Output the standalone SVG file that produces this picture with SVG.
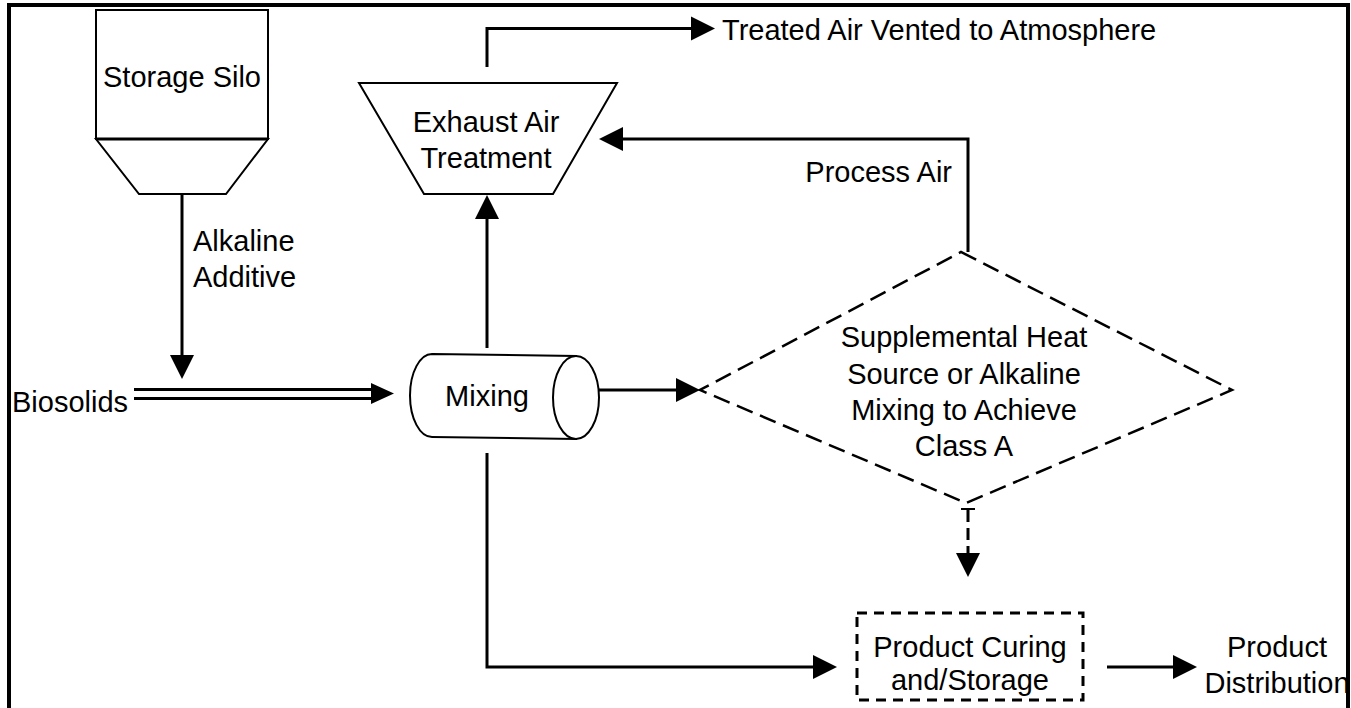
<svg xmlns="http://www.w3.org/2000/svg" width="1351" height="708" viewBox="0 0 1351 708">
<style>
text{font-family:"Liberation Sans",Arial,sans-serif;font-size:29px;fill:#000}
.m{text-anchor:middle}
.shape{fill:#fff;stroke:#000;stroke-width:2}
.conn{fill:none;stroke:#000;stroke-width:3}
.dash{stroke-dasharray:12 6}
</style>
<defs>
<marker id="ah" markerUnits="userSpaceOnUse" markerWidth="24" markerHeight="24" refX="0" refY="12" orient="auto" overflow="visible">
<path d="M0,0 L24,12 L0,24 z" fill="#000"/>
</marker>
</defs>
<rect x="9" y="5" width="1339" height="730" fill="#fff" stroke="#000" stroke-width="4"/>

<g id="connectors">
<line class="conn" x1="182" y1="194" x2="182" y2="355" marker-end="url(#ah)"/>
<line class="conn" x1="134" y1="389.5" x2="378" y2="389.5"/>
<line class="conn" x1="134" y1="398.5" x2="378" y2="398.5"/>
<path d="M371,383 L394,393.5 L371,404 z" fill="#000"/>
<line class="conn" x1="487" y1="348" x2="487" y2="219" marker-end="url(#ah)"/>
<polyline class="conn" points="487,67 487,28.5 691,28.5" marker-end="url(#ah)"/>
<polyline class="conn" points="968,252 968,139 623,139" marker-end="url(#ah)"/>
<line class="conn" x1="599" y1="390" x2="676" y2="390" marker-end="url(#ah)"/>
<polyline class="conn" points="487,453 487,667 813,667" marker-end="url(#ah)"/>
<line class="conn dash" x1="968" y1="510" x2="968" y2="553" marker-end="url(#ah)"/>
<line x1="961" y1="509" x2="975" y2="509" stroke="#000" stroke-width="2"/>
<line class="conn" x1="1107" y1="667" x2="1173" y2="667" marker-end="url(#ah)"/>
</g>

<g id="storage-silo">
<rect class="shape" x="96" y="10" width="172" height="129"/>
<polygon class="shape" points="96,139 268,139 226,194 139,194"/>
<line x1="96" y1="139" x2="268" y2="139" stroke="#000" stroke-width="3"/>
<text class="m" x="182" y="87">Storage Silo</text>
</g>

<g id="alkaline-label">
<text x="193" y="251">Alkaline</text>
<text x="193" y="287">Additive</text>
</g>

<g id="biosolids">
<text x="12" y="412">Biosolids</text>
</g>

<g id="exhaust-air-treatment">
<polygon class="shape" points="359,83 617,83 553,194 424,194"/>
<text class="m" x="486" y="132">Exhaust Air</text>
<text class="m" x="486" y="168">Treatment</text>
</g>

<g id="treated-air">
<text x="722" y="40">Treated Air Vented to Atmosphere</text>
</g>

<g id="process-air">
<text x="952" y="182" text-anchor="end">Process Air</text>
</g>

<g id="mixing">
<path class="shape" d="M432,354 L576,356 L576,439 L432,437 A22,41.5 0 0 1 432,354 z"/>
<ellipse class="shape" cx="576" cy="397.5" rx="23" ry="41.5"/>
<text class="m" x="487" y="406">Mixing</text>
</g>

<g id="supplemental">
<polygon points="961,252 1232,390 966,503 700,390" fill="none" stroke="#000" stroke-width="2.5" stroke-dasharray="17 8"/>
<text class="m" x="964" y="347">Supplemental Heat</text>
<text class="m" x="964" y="384">Source or Alkaline</text>
<text class="m" x="964" y="420">Mixing to Achieve</text>
<text class="m" x="964" y="456">Class A</text>
</g>

<g id="product-curing">
<rect x="857" y="613" width="226" height="87" fill="none" stroke="#000" stroke-width="3" stroke-dasharray="10 7"/>
<text class="m" x="970" y="657">Product Curing</text>
<text class="m" x="970" y="690">and/Storage</text>
</g>

<g id="product-distribution">
<text class="m" x="1277" y="657">Product</text>
<text class="m" x="1277" y="693">Distribution</text>
</g>
</svg>
